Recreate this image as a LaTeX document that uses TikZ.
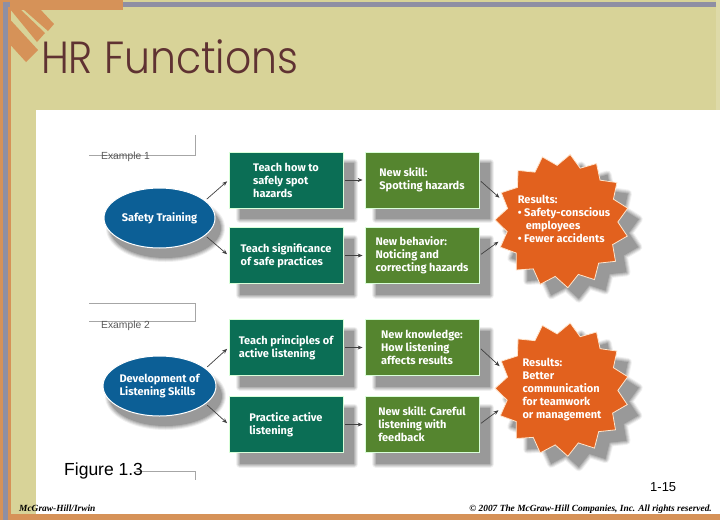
\documentclass[tikz,border=0pt]{standalone}
\usepackage{fontspec}
\usetikzlibrary{shapes.geometric,shadows,arrows.meta}
\setmainfont{Liberation Sans}
\newfontfamily\titlefont{Poppins Light}
\newfontfamily\boxfont{Fira Sans}
\newfontfamily\footfont{Liberation Serif}
\definecolor{khaki}{HTML}{D8D398}
\definecolor{slate}{HTML}{8F8FA3}
\definecolor{tan}{HTML}{D69258}
\definecolor{maroon}{HTML}{5F3232}
\definecolor{darkgreen}{HTML}{0B6E55}
\definecolor{leaf}{HTML}{55852F}
\definecolor{oceanblue}{HTML}{0C5F96}
\definecolor{burnt}{HTML}{E2611E}
\tikzset{
  softshadow/.style 2 args={
    general shadow={shadow xshift=#1,shadow yshift=-#2,fill=black!6,draw=black!6,line width=8pt,line join=round},
    general shadow={shadow xshift=#1,shadow yshift=-#2,fill=black!14,draw=black!14,line width=6pt,line join=round},
    general shadow={shadow xshift=#1,shadow yshift=-#2,fill=black!22,draw=black!22,line width=4pt,line join=round},
    general shadow={shadow xshift=#1,shadow yshift=-#2,fill=black!30,draw=black!30,line width=2pt,line join=round},
    general shadow={shadow xshift=#1,shadow yshift=-#2,fill=black!40}},
  boxlabel/.style={font=\boxfont\bfseries\fontsize{11}{13}\selectfont,text=white,align=left,inner sep=0pt},
  skillbox/.style={boxlabel,rectangle,draw=white!85!green,line width=.8pt,minimum width=114pt,minimum height=56pt,softshadow={11pt}{11pt}},
  oval/.style={boxlabel,ellipse,draw=white,line width=1pt,fill=oceanblue,minimum width=111pt,minimum height=60pt,softshadow={6pt}{10pt}},
  burst/.style={star,star points=15,star point ratio=1.2,shape border rotate=-7,draw=white!80!orange,line width=.8pt,fill=burnt,minimum size=134pt,inner sep=0pt,softshadow={11pt}{11pt}}
}
\begin{document}
\begin{tikzpicture}[x=1pt,y=-1pt]
  \useasboundingbox (0,0) rectangle (720,520);
  \fill[khaki] (0,0) rectangle (720,520);
  \fill[khaki!85!white] (716,0) rectangle (720,110);
  \fill[white] (36,110) rectangle (720,514);
  \fill[tan] (0,0) rectangle (123,10);
  \fill[tan] (0,0) rectangle (10.5,520);
  \fill[tan] (8,514) rectangle (720,520);
  \fill[slate] (3,2) rectangle (8,520);
  \fill[slate] (3,2) rectangle (10,7);
  \fill[slate] (123,2) rectangle (716,7);
  \fill[tan] (23,9) -- (40,9) -- (54,24) -- (48,31) -- cycle;
  \fill[tan] (10,9) -- (20,9) -- (45,33) -- (37,42) -- cycle;
  \fill[tan] (10.5,20) -- (38,50) -- (26,62) -- (10.5,45) -- cycle;
  \node[font=\titlefont\fontsize{45}{45}\selectfont,text=maroon,anchor=base west,inner sep=0pt,xscale=.91] (t) at (41,73) {HR Functions};

  \begin{scope}[draw=black!35,line width=.6pt]
  \draw (89,155) -- (195,155) -- (195,135);
  \draw (89,303) -- (195,303) -- (195,321) -- (89,321);
  \draw (135,471) -- (195,471) -- (195,480);
  \end{scope}
  \begin{scope}[every node/.style={font=\fontsize{10.3}{12}\selectfont,text=black!65,anchor=base west,inner sep=0pt}]
  \node (x) at (101,159.5) {Example 1};
  \node (y) at (101,328) {Example 2};
  \end{scope}

  \node[oval] (a) at (159.5,218) {Safety Training};
  \node[oval] (b) at (159.5,386) {Development of\\Listening Skills};
  \begin{scope}[every node/.append style={skillbox,fill=darkgreen}]
  \node (c) at (286,180) {Teach how to\\safely spot\\hazards};
  \node (d) at (286,255.5) {Teach significance\\of safe practices};
  \node (e) at (286,347.5) {Teach principles of\\active listening};
  \node (f) at (286,424.5) {Practice active\\listening};
  \end{scope}
  \begin{scope}[every node/.append style={skillbox,fill=leaf}]
  \node (g) at (422,180) {New skill:\\Spotting hazards};
  \node (h) at (422,255.5) {New behavior:\\Noticing and\\correcting hazards};
  \node (i) at (422,347.5) {New knowledge:\\How listening\\affects results};
  \node (j) at (422,424.5) {New skill: Careful\\listening with\\feedback};
  \end{scope}
  \node[burst] (k) at (562,221) {};
  \node[burst] (l) at (562,389.5) {};
  \node[boxlabel] (m) at (564,219) {Results:\\\textbullet\ Safety-conscious\\\hspace{8pt}employees\\\textbullet\ Fewer accidents};
  \node[boxlabel] (n) at (562,389.5) {Results:\\Better\\communication\\for teamwork\\or management};

  \begin{scope}[every edge/.style={draw=black!75,line width=.7pt,-{Stealth[length=5pt,width=4pt]},shorten >=2pt,shorten <=2pt}]
  \path (a.21) edge (c.west);
  \path (a.-21) edge (d.west);
  \path (b.21) edge (e.west);
  \path (b.-21) edge (f.west);
  \path (c) edge (g);
  \path (d) edge (h);
  \path (e) edge (i);
  \path (f) edge (j);
  \path (g.east) edge[shorten >=7pt] (k.162);
  \path (h.east) edge[shorten >=7pt] (k.196);
  \path (i.east) edge[shorten >=7pt] (l.162);
  \path (j.east) edge[shorten >=7pt] (l.196);
  \end{scope}

  \node[font=\fontsize{17.5}{20}\selectfont,anchor=base west,inner sep=0pt] (o) at (64,475) {Figure 1.3};
  \node[font=\fontsize{13}{15}\selectfont,anchor=base west,inner sep=0pt] (p) at (650,491) {1-15};
  \node[font=\footfont\bfseries\itshape\fontsize{9.4}{11}\selectfont,anchor=base west,inner sep=0pt] (q) at (19,511.5) {McGraw-Hill/Irwin};
  \node[font=\footfont\bfseries\itshape\fontsize{9.4}{11}\selectfont,anchor=base east,inner sep=0pt] (r) at (712,511.5) {\textcopyright\ 2007 The McGraw-Hill Companies, Inc. All rights reserved.};
\end{tikzpicture}
\end{document}
